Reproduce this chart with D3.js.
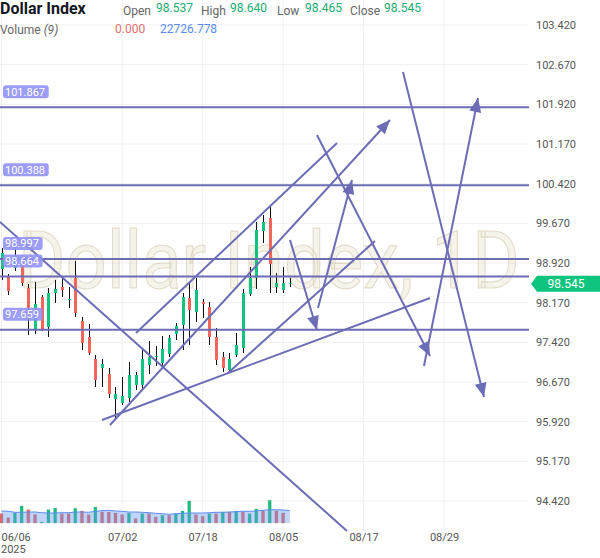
<!DOCTYPE html>
<html><head><meta charset="utf-8">
<script src="https://cdn.jsdelivr.net/npm/d3@7/dist/d3.min.js"></script>
<style>body{margin:0;background:#fff;}svg{display:block;font-family:Roboto,"Noto Sans",sans-serif;}</style>
</head><body><svg id="chart" width="600" height="558"></svg>
<script>
// ---------- data ----------
const tickIndex = [0, 18, 30, 42, 54, 66];
const tickLabels = ["06/06", "07/02", "07/18", "08/05", "08/17", "08/29"];
const priceTicks = [103.42, 102.67, 101.92, 101.17, 100.42, 99.67, 98.92, 98.17, 97.42, 96.67, 95.92, 95.17, 94.42];
const opens = [98.807,98.655,98.826,98.920,98.447,97.653,98.277,97.710,98.353,98.466,98.221,98.637,97.824,97.521,97.105,96.935,96.821,96.349,96.273,96.368,96.613,96.613,96.992,97.143,97.029,97.200,97.578,97.748,98.258,97.994,98.183,98.088,97.521,97.143,96.897,97.181,97.313,98.334,98.637,99.525,99.771,98.466,98.410,98.537];
const highs = [99.204,98.712,99.355,99.071,98.523,98.561,98.315,98.447,98.599,98.674,98.466,98.958,97.899,97.767,97.181,97.105,96.935,96.576,96.765,97.048,96.859,97.313,97.445,97.351,97.540,97.559,97.786,98.353,98.542,98.637,98.239,98.183,97.691,97.237,97.218,97.597,98.429,98.845,99.695,99.828,100.017,98.731,98.845,98.640];
const lows = [98.599,98.315,98.769,98.485,97.559,97.578,97.634,97.521,98.164,98.277,98.069,97.899,97.275,97.181,96.576,96.576,96.368,95.971,96.236,96.292,96.519,96.519,96.821,96.973,96.954,97.143,97.464,97.275,97.370,97.805,97.880,97.370,96.992,96.859,96.859,97.143,97.218,98.296,98.429,99.298,98.353,98.353,98.353,98.465];
const closes = [99.109,98.391,99.052,98.542,98.069,98.145,97.653,98.353,98.429,98.410,98.239,97.975,97.408,97.218,96.708,97.011,96.443,96.443,96.406,96.803,96.803,97.105,97.143,97.162,97.294,97.502,97.729,98.277,98.032,98.410,98.145,97.521,97.086,96.935,97.105,97.370,98.353,98.637,99.544,99.695,98.901,98.542,98.542,98.545];
const volumes = [17186,9794,18480,31416,24578,15338,1848,24578,27720,17186,17186,27166,22176,15338,29568,20328,20328,18480,15338,18480,7946,17186,17186,11088,14230,14230,17186,22176,40656,15338,12382,17186,17186,20328,20328,22176,20328,17186,25872,22176,41950,22176,18480,0];
const volumeUp = [0,0,1,1,0,0,1,1,1,0,0,1,0,0,1,0,0,0,0,1,0,1,0,0,1,0,1,1,1,0,0,1,0,1,0,1,0,1,1,0,1,0,0,0];
const volumeMA = [22176,21622,19774,19774,20328,20328,19034,18480,18480,19034,19034,20328,20328,19774,21622,22730,23470,22176,21622,20328,20328,19774,19034,17926,17186,16078,17186,17926,18480,18480,18480,19034,19774,19774,20328,20882,21622,21622,22176,23470,24578,24578,24024,22726.778];
const levels = [101.867, 100.388, 98.997, 98.664, 97.659];
// trend lines: [startIndex, startPrice, endIndex, endPrice, arrowAtEnd]
const trendLines = [
  [-0.22, 99.695, 51.53, 93.853, 0],
  [20.06, 97.597, 50.04, 101.189, 0],
  [16.18, 95.857, 57.94, 101.624, 1],
  [14.99, 95.952, 63.91, 98.258, 0],
  [33.78, 96.840, 55.70, 99.336, 0],
  [43.03, 99.355, 47.05, 97.653, 1],
  [47.20, 98.069, 52.27, 100.489, 1],
  [47.05, 101.340, 63.91, 97.162, 1],
  [59.88, 102.531, 71.96, 96.387, 1],
  [63.01, 96.973, 71.07, 102.040, 1]
];
const lastPrice = 98.545;

// ---------- scales ----------
const svg = d3.select("#chart");
const plotRight = 529;
const x = d3.scaleLinear().domain([0, 78]).range([1.5, 1.5 + 6.705 * 78]);
const y = d3.scaleLinear().domain([94.42, 103.42]).range([501, 25]);
const yv = d3.scaleLinear().domain([0, 55440]).range([523, 493]);
const GREEN = "#0fc47f", RED = "#f3655b", LINE = "#6d6db6";

// grid
const grid = svg.append("g");
grid.selectAll("line.h").data(priceTicks).join("line")
  .attr("x1", 0).attr("x2", plotRight).attr("y1", d => y(d)).attr("y2", d => y(d))
  .attr("stroke", "#f0f0f0").attr("stroke-width", 1);
grid.selectAll("line.v").data(tickIndex).join("line")
  .attr("x1", d => x(d)).attr("x2", d => x(d)).attr("y1", 0).attr("y2", 530)
  .attr("stroke", "#f0f0f0").attr("stroke-width", 1);

// watermark
svg.append("text").attr("transform", "translate(18,288) scale(1,1.1)")
  .attr("font-size", 72.5)
  .attr("fill", "rgba(225,215,190,0.3)").attr("stroke", "rgba(200,185,150,0.45)").attr("stroke-width", 1)
  .text("Dollar Index, 1D");

// volume bars
const idx = d3.range(opens.length);
svg.append("g").selectAll("rect").data(idx.filter(i => volumes[i] > 0)).join("rect")
  .attr("x", i => x(i) - 1.5).attr("width", 3)
  .attr("y", i => yv(volumes[i])).attr("height", i => yv(0) - yv(volumes[i]))
  .attr("fill", i => volumeUp[i] ? GREEN : RED)
  .attr("stroke", "rgba(120,120,120,0.25)").attr("stroke-width", 1);
const area = d3.area().x(i => x(i)).y0(yv(0)).y1(i => yv(volumeMA[i]));
svg.append("path").attr("d", area(idx)).attr("fill", "rgba(100,150,240,0.4)");
svg.append("path").attr("d", d3.line().x(i => x(i)).y(i => yv(volumeMA[i]))(idx))
  .attr("fill", "none").attr("stroke", "#5b8def").attr("stroke-width", 1);

// candles
const cg = svg.append("g");
cg.selectAll("line").data(idx).join("line")
  .attr("x1", i => Math.round(x(i)) + 0.5).attr("x2", i => Math.round(x(i)) + 0.5)
  .attr("y1", i => y(highs[i])).attr("y2", i => y(lows[i]))
  .attr("stroke", "#111").attr("stroke-width", 1);
cg.selectAll("rect").data(idx).join("rect")
  .attr("x", i => Math.round(x(i)) - 1).attr("width", 3)
  .attr("y", i => y(Math.max(opens[i], closes[i])))
  .attr("height", i => Math.max(1, Math.abs(y(opens[i]) - y(closes[i]))))
  .attr("fill", i => closes[i] >= opens[i] ? GREEN : RED);

// horizontal levels
svg.append("g").selectAll("line").data(levels).join("line")
  .attr("x1", 0).attr("x2", plotRight).attr("y1", d => y(d)).attr("y2", d => y(d))
  .attr("stroke", LINE).attr("stroke-width", 2);

// trend lines
const tg = svg.append("g");
trendLines.forEach(t => {
  const x1 = x(t[0]), y1 = y(t[1]), x2 = x(t[2]), y2 = y(t[3]);
  tg.append("line").attr("x1", x1).attr("y1", y1).attr("x2", x2).attr("y2", y2)
    .attr("stroke", LINE).attr("stroke-width", 2);
  if (t[4]) {
    const a = Math.atan2(y2 - y1, x2 - x1), L = 14, W = 6;
    const bx = x2 - L * Math.cos(a), by = y2 - L * Math.sin(a);
    const p = [[x2, y2], [bx + W * Math.sin(a), by - W * Math.cos(a)], [bx - W * Math.sin(a), by + W * Math.cos(a)]];
    tg.append("path").attr("d", "M" + p.map(q => q.join(",")).join("L") + "Z").attr("fill", LINE);
  }
});

// level labels
const lg = svg.append("g");
levels.forEach(v => {
  const t = v.toFixed(3), w = t.length * 6.1 + 3;
  lg.append("rect").attr("x", 3).attr("y", y(v) - 22).attr("width", w).attr("height", 13).attr("rx", 3)
    .attr("fill", "rgba(145,145,248,0.9)");
  lg.append("text").attr("x", 5).attr("y", y(v) - 11.5).attr("font-size", 11).attr("fill", "#fff").text(t);
});

// right axis
const ya = svg.append("g").attr("transform", `translate(${plotRight},0)`)
  .call(d3.axisRight(y).tickValues(priceTicks).tickFormat(d3.format(".3f")).tickSize(0).tickPadding(7));
ya.select(".domain").remove();
ya.selectAll("text").attr("font-size", 11).attr("fill", "#555").attr("font-family", "Roboto, sans-serif");

// price tag
const py = y(lastPrice) + 1;
svg.append("path").attr("d", `M531,${py} L537,${py - 8} H600 V${py + 8} H537 Z`).attr("fill", GREEN);
svg.append("text").attr("x", 566).attr("y", py + 4).attr("text-anchor", "middle").attr("font-size", 12).attr("fill", "#fff").text(lastPrice.toFixed(3));

// x axis
const xa = svg.append("g").attr("transform", "translate(0,530)")
  .call(d3.axisBottom(x).tickValues(tickIndex).tickFormat((d, i) => tickLabels[i]).tickSize(0).tickPadding(3));
xa.select(".domain").remove();
xa.selectAll("text").attr("font-size", 11).attr("fill", "#555").attr("font-family", "Roboto, sans-serif")
  .attr("text-anchor", (d, i) => i === 0 ? "start" : "middle").attr("x", (d, i) => i === 0 ? -0.5 : 0);
svg.append("text").attr("x", 1).attr("y", 553).attr("font-size", 11).attr("fill", "#555").text("2025");

// header
const hd = svg.append("g").attr("font-size", 12);
hd.append("text").attr("x", 0).attr("y", 14).attr("font-size", 16).attr("font-weight", "bold").attr("fill", "#131722").text("Dollar Index");
const ohlc = [["Open", 123, opens[43], 156], ["High", 201, highs[43], 230], ["Low", 277, lows[43], 305], ["Close", 350, closes[43], 384]];
ohlc.forEach(o => {
  hd.append("text").attr("x", o[1]).attr("y", 15).attr("fill", "#666").text(o[0]);
  hd.append("text").attr("x", o[3]).attr("y", 12).attr("fill", "#22ab72").text(o[2].toFixed(3));
});
const vt = hd.append("text").attr("x", 0).attr("y", 34).attr("fill", "#666");
vt.append("tspan").text("Volume ");
vt.append("tspan").attr("font-style", "italic").text("(9)");
hd.append("text").attr("x", 115).attr("y", 33).attr("fill", "#e07070").text(volumes[43].toFixed(3));
hd.append("text").attr("x", 160).attr("y", 33).attr("fill", "#5b8def").text(volumeMA[43].toFixed(3));
</script></body></html>
